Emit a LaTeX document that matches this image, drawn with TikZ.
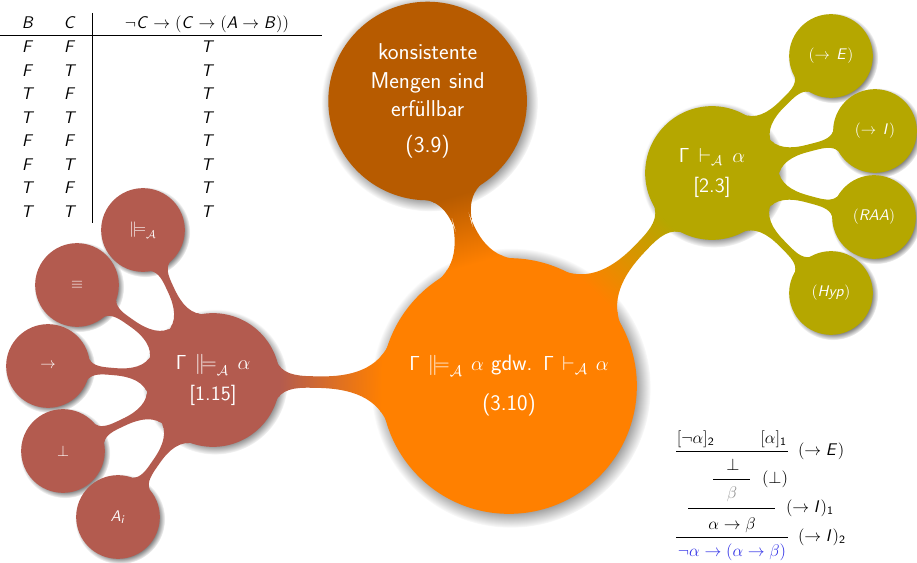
\documentclass[tikz,border=0pt]{standalone}
\usepackage{tikz}
\usetikzlibrary{mindmap,shadows}
\DeclareMathAlphabet{\mathsfit}{OT1}{cmss}{m}{sl}
\newcommand{\sv}[1]{\mathsfit{#1}}
\newcommand{\Models}{\mathrel{|\mkern-1.5mu{\models}}}
\definecolor{centcol}{RGB}{255,128,0}
\definecolor{konscol}{RGB}{183,91,0}
\definecolor{semcol}{RGB}{179,91,79}
\definecolor{syncol}{RGB}{181,167,0}
\definecolor{goalcol}{RGB}{51,51,230}

\begin{document}
\begin{tikzpicture}[mindmap,font=\sffamily]
  \tikzset{
    bubble/.style={concept,circular drop shadow,text=white,inner sep=0pt,align=center},
    hub/.style={bubble,concept color=centcol,minimum size=6.35cm,text width=6cm,font=\sffamily\fontsize{15.8}{19.5}\selectfont},
    big/.style={bubble,minimum size=4.3cm,text width=4cm,font=\sffamily\fontsize{16.3}{20.5}\selectfont},
    mid/.style={bubble,minimum size=3.3cm,text width=3cm,font=\sffamily\fontsize{14.5}{17}\selectfont},
    leaf/.style={bubble,minimum size=2.05cm,text width=1.8cm,font=\sffamily\fontsize{11.2}{13.5}\selectfont},
    cell/.style={text=black,anchor=base,inner sep=0pt,minimum size=0pt,text width=,align=left,font=\sffamily\fontsize{12}{14}\selectfont},
    bar/.style={line width=9pt},
    twig/.style={line width=4.5pt}
  }
  \useasboundingbox (0,0) rectangle (22.925,14.05);

  % truth table
  \node[cell] (hb) at (0.7,13.325) {$\sv{B}$};
  \node[cell] (hc) at (1.75,13.325) {$\sv{C}$};
  \node[cell] (hf) at (5.175,13.325) {$\neg\sv{C}\to(\sv{C}\to(\sv{A}\to\sv{B}))$};
  \foreach \b/\c [count=\r] in {F/F,F/T,T/F,T/T,F/F,F/T,T/F,T/T} {
    \node[cell] (b\r) at (0.7,13.311-0.586*\r) {$\sv{\b}$};
    \node[cell] (c\r) at (1.75,13.311-0.586*\r) {$\sv{\c}$};
    \node[cell] (t\r) at (5.2,13.311-0.586*\r) {$\sv{T}$};
  }
  \draw[semithick] (0,13.175) -- (8.05,13.175);
  \draw[semithick] (2.3,13.725) -- (2.3,8.475);

  % mind map
  \node[hub] (thm) at (12.725,4.4) {$\mathsf{\Gamma}\Models_{\mathcal A}\alpha$ gdw. $\mathsf{\Gamma}\vdash_{\mathcal A}\alpha$\\[9pt](3.10)};
  \node[big,concept color=konscol] (kons) at (10.69,11.525) {konsistente\\Mengen sind\\erfüllbar\\[5pt](3.9)};
  \node[mid,concept color=semcol] (sem) at (5.325,4.55) {$\mathsf{\Gamma}\Models_{\mathcal A}\alpha$\\[5pt][1.15]};
  \node[mid,concept color=syncol] (syn) at (17.8,9.725) {$\mathsf{\Gamma}\vdash_{\mathcal A}\alpha$\\[5pt][2.3]};

  \node[leaf,concept color=syncol] (ee) at (20.775,12.65) {$(\to\sv{E})$};
  \node[leaf,concept color=syncol] (ii) at (21.875,10.775) {$(\to\sv{I})$};
  \node[leaf,concept color=syncol] (raa) at (21.85,8.625) {$(\sv{RAA})$};
  \node[leaf,concept color=syncol] (hyp) at (20.775,6.725) {$(\sv{Hyp})$};

  \node[leaf,concept color=semcol] (mo) at (3.575,8.3) {$\Models_{\mathcal A}$};
  \node[leaf,concept color=semcol] (eq) at (1.925,6.925) {$\equiv$};
  \node[leaf,concept color=semcol] (imp) at (1.2,4.9) {$\to$};
  \node[leaf,concept color=semcol] (bot) at (1.575,2.775) {$\bot$};
  \node[leaf,concept color=semcol] (ai) at (2.95,1.125) {$\sv{A}_{\sv{i}}$};

  \path (thm) to[circle connection bar switch color=from (centcol) to (konscol),bar] (kons);
  \path (thm) to[circle connection bar switch color=from (centcol) to (semcol),bar] (sem);
  \path (thm) to[circle connection bar switch color=from (centcol) to (syncol),bar] (syn);
  \foreach \leafname in {ee,ii,raa,hyp}
    \path (syn) to[circle connection bar switch color=from (syncol) to (syncol),twig] (\leafname);
  \foreach \leafname in {mo,eq,imp,bot,ai}
    \path (sem) to[circle connection bar switch color=from (semcol) to (semcol),twig] (\leafname);

  % proof tree
  \node[cell] (neg) at (17.39,2.975) {$[\neg\alpha]_{\mathsf{2}}$};
  \node[cell] (pos) at (19.34,2.975) {$[\alpha]_{\mathsf{1}}$};
  \draw[semithick] (16.9,2.775) -- (19.7,2.775);
  \node[cell,anchor=west] (r1) at (19.95,2.775) {$(\to\sv{E})$};
  \node[cell] (fal) at (18.325,2.3) {$\bot$};
  \draw[semithick] (17.825,2.075) -- (18.75,2.075);
  \node[cell,anchor=west] (r2) at (19.05,2.075) {$(\bot)$};
  \node[cell,text=black!45] (bet) at (18.3,1.6) {$\beta$};
  \draw[semithick] (17.2,1.35) -- (19.375,1.35);
  \node[cell,anchor=west] (r3) at (19.65,1.35) {$(\to\sv{I})_{\mathsf{1}}$};
  \node[cell] (ab) at (18.3,0.825) {$\alpha\to\beta$};
  \draw[semithick] (16.9,0.625) -- (19.7,0.625);
  \node[cell,anchor=west] (r4) at (19.95,0.625) {$(\to\sv{I})_{\mathsf{2}}$};
  \node[cell,text=goalcol] (goal) at (18.3,0.15) {$\neg\alpha\to(\alpha\to\beta)$};
\end{tikzpicture}
\end{document}
